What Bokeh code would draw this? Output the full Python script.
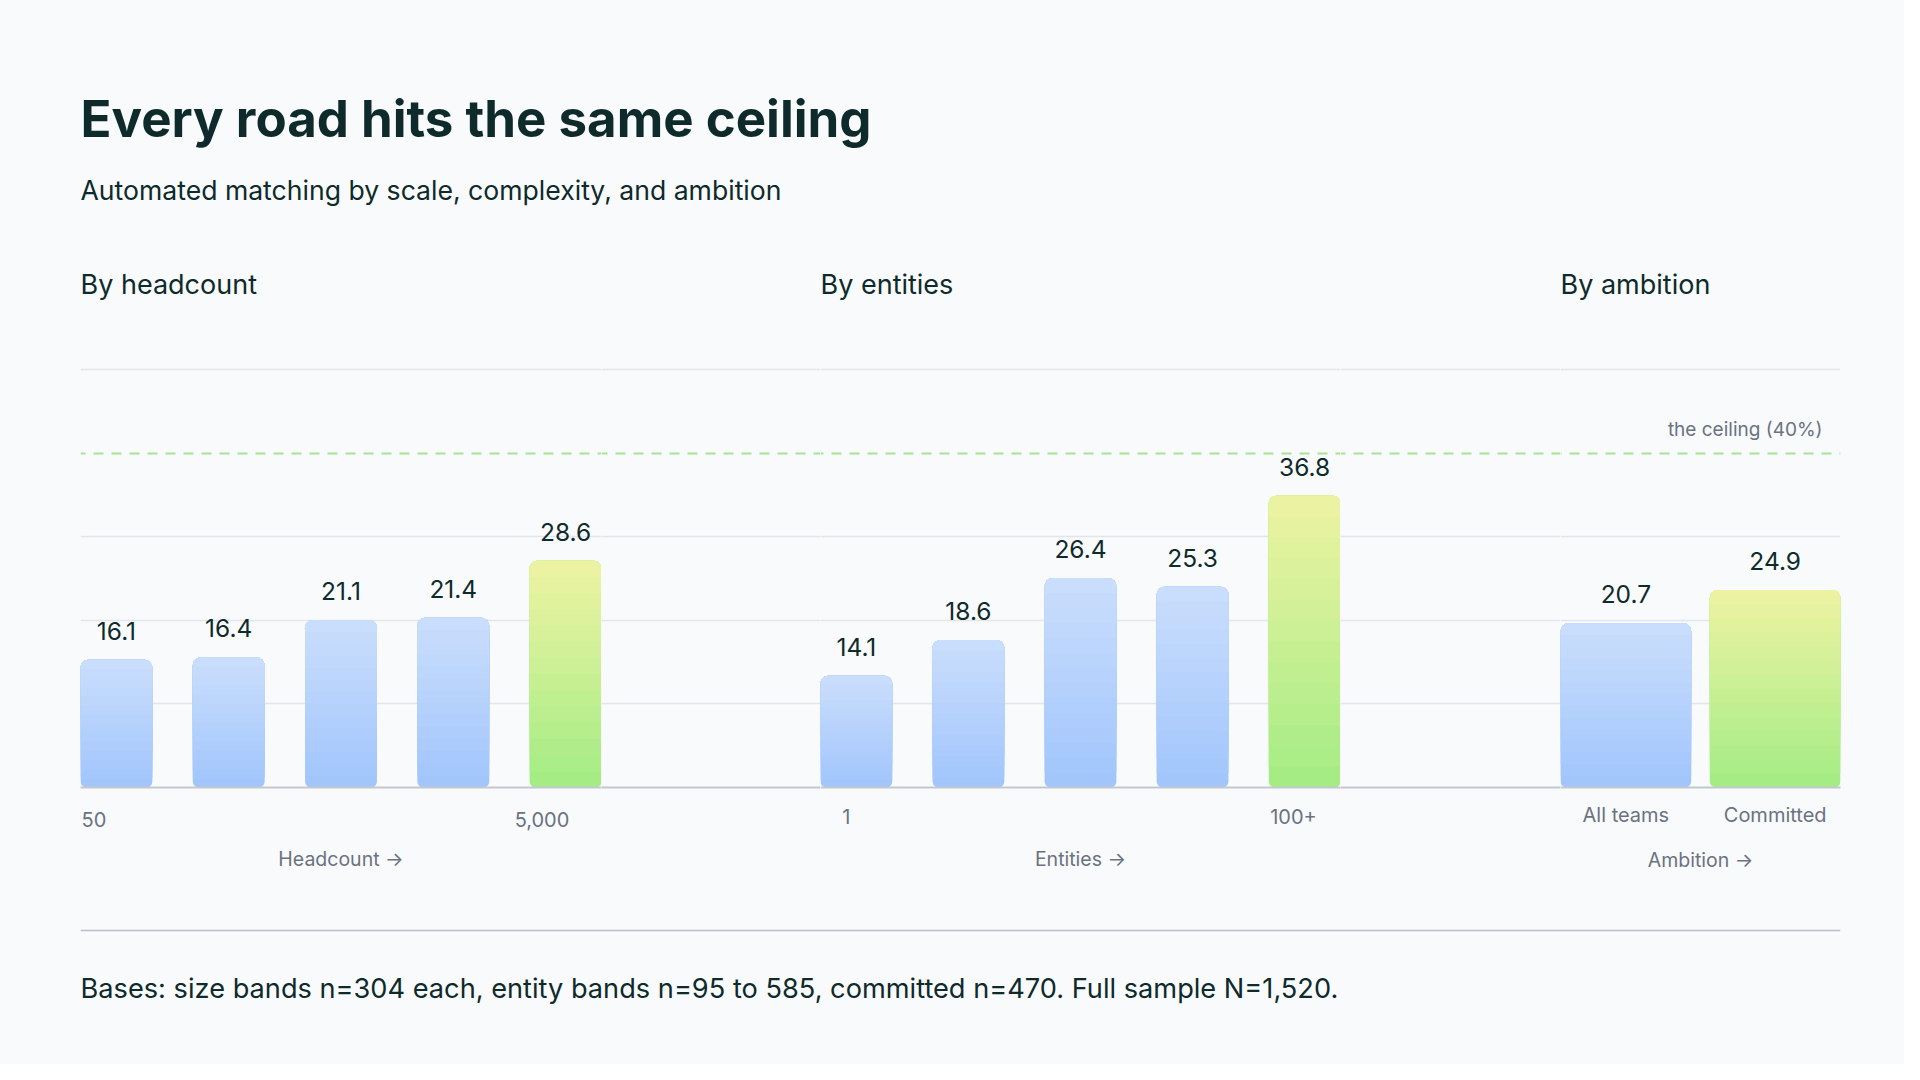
from bokeh.plotting import figure
from bokeh.models import Range1d, Span, FixedTicker, ColumnDataSource
from bokeh.layouts import column, row
from bokeh.embed import file_html
from bokeh.resources import INLINE
from bokeh.core.properties import value

# ---------------- data ----------------
headcount_values = [16.1, 16.4, 21.1, 21.4, 28.6]
headcount_tick_labels = ["50", "5,000"]
entity_values = [14.1, 18.6, 26.4, 25.3, 36.8]
entity_tick_labels = ["1", "100+"]
ambition_categories = ["All teams", "Committed"]
ambition_values = [20.7, 24.9]
ceiling_value = 40
grid_values = [10, 20, 30, 50]

TITLE = "Every road hits the same ceiling"
SUBTITLE = "Automated matching by scale, complexity, and ambition"
PANEL_TITLES = ["By headcount", "By entities", "By ambition"]
AXIS_TITLES = ["Headcount \u2192", "Entities \u2192", "Ambition \u2192"]
CEILING_LABEL = "the ceiling (40%)"
FOOTER = "Bases: size bands n=304 each, entity bands n=95 to 585, committed n=470. Full sample N=1,520."

# ---------------- style ----------------
BG = "#F8FAFC"
INK = "#0E2A2B"
MUTED = "#6B7280"
GRID = "#E2E5E9"
BASE = "#C4C8CE"
RULE = "#B9BFC7"
DASH = "#A9E292"
BLUE = ("#A0C5FC", "#CBDEFC")    # bottom, top
GREEN = ("#A3EC84", "#EEF3A3")   # bottom, top
FONT = "Inter"

PAGE_W = 1904
LEFT = 80
RIGHT = 64
HEADER_H = 340
TOP_B = 21
FRAME_H = 426
BOT_B = 100
FOOTER_H = 177
GRID_END = 51.0
BAR_END = 53.72
SLICES = 14


def hex2rgb(h):
    h = h.lstrip("#")
    return tuple(int(h[i:i + 2], 16) for i in (0, 2, 4))


def mix(c0, c1, t):
    a, b = hex2rgb(c0), hex2rgb(c1)
    return "#%02x%02x%02x" % tuple(round(a[i] + (b[i] - a[i]) * t) for i in range(3))


def base_fig(frame_w, x_range, left=0, right=0, dash_offset=0,
             tick_standoff=24, label_standoff=17):
    p = figure(width=frame_w + left + right, height=TOP_B + FRAME_H + BOT_B,
               x_range=x_range, y_range=Range1d(0, GRID_END),
               output_backend="svg", toolbar_location=None,
               y_axis_location=None,
               min_border_left=left, min_border_right=right,
               min_border_top=TOP_B, min_border_bottom=BOT_B,
               background_fill_color=BG, border_fill_color=BG,
               outline_line_color=None)
    p.extra_y_ranges = {"bars": Range1d(0, BAR_END)}
    p.xgrid.visible = False
    p.ygrid.ticker = FixedTicker(ticks=grid_values)
    p.ygrid.grid_line_color = GRID
    p.ygrid.grid_line_width = 1.5
    ax = p.xaxis[0]
    ax.axis_line_color = BASE
    ax.axis_line_width = 2
    ax.major_tick_line_color = None
    ax.minor_tick_line_color = None
    ax.major_tick_out = 0
    ax.major_tick_in = 0
    ax.major_label_text_font = FONT
    ax.major_label_text_font_size = "20px"
    ax.major_label_text_color = MUTED
    ax.major_label_standoff = tick_standoff
    ax.axis_label_text_font = FONT
    ax.axis_label_text_font_size = "19.5px"
    ax.axis_label_text_font_style = "normal"
    ax.axis_label_text_color = MUTED
    ax.axis_label_standoff = label_standoff
    ax.ticker = FixedTicker(ticks=[])
    p.add_layout(Span(location=ceiling_value, dimension="width", line_color=DASH,
                      line_width=2, line_dash="10 8", line_dash_offset=dash_offset))
    return p


def bar_panel(values, frame_w, bar_w, tick_pos, tick_labels, axis_title,
              left=0, right=0, dash_offset=0, ceiling_label=False,
              tick_standoff=24, label_standoff=17):
    n = len(values)
    xr = Range1d(-bar_w / 2, n - 1 + bar_w / 2)
    p = base_fig(frame_w, xr, left, right, dash_offset, tick_standoff, label_standoff)
    ax = p.xaxis[0]
    ax.ticker = FixedTicker(ticks=tick_pos)
    ax.major_label_overrides = {t: l for t, l in zip(tick_pos, tick_labels)}
    ax.axis_label = axis_title

    # gradient bars built from overlapping slices (each slice reaches the bar top)
    base_rows = dict(x=[], bottom=[], top=[], color=[])
    up_rows = dict(x=[], bottom=[], top=[], color=[])
    for i, v in enumerate(values):
        c0, c1 = GREEN if i == n - 1 else BLUE
        for k in range(SLICES):
            rows = base_rows if k == 0 else up_rows
            rows["x"].append(i)
            rows["bottom"].append(v * k / SLICES)
            rows["top"].append(v)
            rows["color"].append(mix(c0, c1, (k + 0.5) / SLICES))
    p.vbar(x="x", bottom="bottom", top="top", width=bar_w, fill_color="color",
           line_color=None, border_radius=(8, 8, 6, 6), y_range_name="bars",
           source=ColumnDataSource(base_rows))
    p.vbar(x="x", bottom="bottom", top="top", width=bar_w, fill_color="color",
           line_color=None, border_radius=(8, 8, 0, 0), y_range_name="bars",
           source=ColumnDataSource(up_rows))

    lab = ColumnDataSource(dict(x=list(range(n)), y=values,
                                t=["%.1f" % v for v in values]))
    p.text(x="x", y="y", text="t", source=lab, y_range_name="bars",
           text_align="center", text_baseline="alphabetic", y_offset=-29,
           text_font=value(FONT), text_font_size="24.5px", text_color=INK)

    if ceiling_label:
        p.text(x=[xr.end], y=[ceiling_value], text=[CEILING_LABEL],
               text_align="right", text_baseline="alphabetic",
               x_offset=-18, y_offset=-24,
               text_font=value(FONT), text_font_size="19px", text_color=MUTED)
    return p


p1 = bar_panel(headcount_values, 521, 0.64, [-0.2, 3.79], headcount_tick_labels,
               AXIS_TITLES[0], left=LEFT, dash_offset=5,
               tick_standoff=24, label_standoff=17)
g1 = base_fig(219, Range1d(0, 1), dash_offset=4)
p2 = bar_panel(entity_values, 520, 0.64, [-0.09, 3.9], entity_tick_labels,
               AXIS_TITLES[1], dash_offset=7, tick_standoff=21, label_standoff=20)
g2 = base_fig(220, Range1d(0, 1), dash_offset=5)
p3 = bar_panel(ambition_values, 280, 0.875, [0, 1], ambition_categories,
               AXIS_TITLES[2], right=RIGHT, dash_offset=9, ceiling_label=True,
               tick_standoff=15, label_standoff=18)


def text_fig(h):
    p = figure(width=PAGE_W, height=h, x_range=Range1d(0, PAGE_W - LEFT - RIGHT),
               y_range=Range1d(h, 0), output_backend="svg", toolbar_location=None,
               x_axis_location=None, y_axis_location=None,
               min_border_left=LEFT, min_border_right=RIGHT,
               min_border_top=0, min_border_bottom=0,
               background_fill_color=BG, border_fill_color=BG,
               outline_line_color=None)
    p.grid.visible = False
    return p


header = text_fig(HEADER_H)
header.text(x=[0], y=[118], text=[TITLE], text_baseline="alphabetic",
            text_font=value(FONT), text_font_size="51px", text_font_style="bold",
            text_color=INK)
header.text(x=[0], y=[189], text=[SUBTITLE], text_baseline="alphabetic",
            text_font=value(FONT), text_font_size="26.6px", text_color=INK)
header.text(x=[0, 740, 1480], y=[284, 284, 284], text=PANEL_TITLES,
            text_baseline="alphabetic", text_font=value(FONT),
            text_font_size="27px", text_color=INK)

footer = text_fig(FOOTER_H)
footer.add_layout(Span(location=43, dimension="width", line_color=RULE, line_width=1.5))
footer.text(x=[0], y=[100.5], text=[FOOTER], text_baseline="alphabetic",
            text_font=value(FONT), text_font_size="27.2px", text_color=INK)

panels = row(p1, g1, p2, g2, p3, styles={"background-color": BG})
layout = column(header, panels, footer, styles={"background-color": BG})

open("out.html", "w").write(file_html(layout, INLINE))
